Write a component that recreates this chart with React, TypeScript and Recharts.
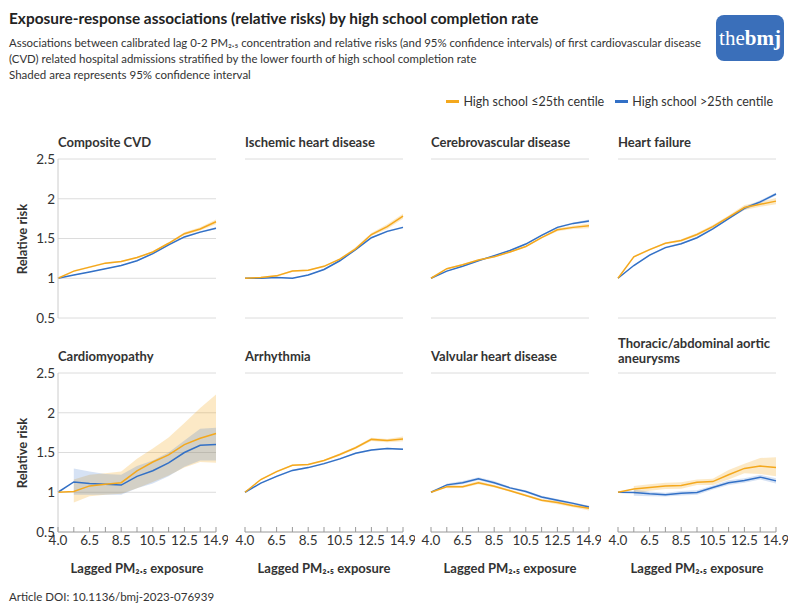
import React from 'react'
import { ComposedChart, Line, Area, XAxis, YAxis, CartesianGrid } from 'recharts'

const exposure = ['4.0', '5.5', '6.5', '7.5', '8.5', '9.5', '10.5', '11.5', '12.5', '13.5', '14.9']
const labelledTicks = ['4.0', '6.5', '8.5', '10.5', '12.5', '14.9']
const riskTicks = [0.5, 1, 1.5, 2, 2.5]

// Le = high school <=25th centile (orange), Gt = >25th centile (blue); Lo/Hi = 95% CI
const cvdLe = [1.0, 1.09, 1.14, 1.19, 1.21, 1.26, 1.33, 1.44, 1.56, 1.62, 1.71]
const cvdLeLo = [null, 1.08, 1.13, 1.18, 1.2, 1.25, 1.32, 1.43, 1.54, 1.6, 1.68]
const cvdLeHi = [null, 1.1, 1.15, 1.2, 1.22, 1.27, 1.34, 1.45, 1.58, 1.64, 1.74]
const cvdGt = [1.0, 1.04, 1.08, 1.12, 1.16, 1.22, 1.31, 1.42, 1.52, 1.58, 1.63]
const cvdGtLo = [null, 1.035, 1.075, 1.115, 1.155, 1.215, 1.3, 1.41, 1.51, 1.57, 1.62]
const cvdGtHi = [null, 1.045, 1.085, 1.125, 1.165, 1.225, 1.32, 1.43, 1.53, 1.59, 1.64]

const ihdLe = [1.0, 1.01, 1.03, 1.09, 1.1, 1.15, 1.24, 1.37, 1.55, 1.65, 1.78]
const ihdLeLo = [null, 1.0, 1.02, 1.08, 1.09, 1.14, 1.23, 1.35, 1.53, 1.62, 1.75]
const ihdLeHi = [null, 1.02, 1.04, 1.1, 1.11, 1.16, 1.25, 1.39, 1.57, 1.68, 1.81]
const ihdGt = [1.0, 1.0, 1.01, 1.0, 1.04, 1.11, 1.22, 1.36, 1.51, 1.59, 1.64]
const ihdGtLo = [null, 0.995, 1.005, 0.995, 1.035, 1.1, 1.21, 1.35, 1.5, 1.58, 1.63]
const ihdGtHi = [null, 1.005, 1.015, 1.005, 1.045, 1.12, 1.23, 1.37, 1.52, 1.6, 1.65]

const cbvLe = [1.0, 1.12, 1.17, 1.23, 1.27, 1.33, 1.4, 1.51, 1.61, 1.64, 1.66]
const cbvLeLo = [null, 1.11, 1.16, 1.22, 1.26, 1.32, 1.39, 1.5, 1.59, 1.62, 1.63]
const cbvLeHi = [null, 1.13, 1.18, 1.24, 1.28, 1.34, 1.41, 1.52, 1.63, 1.66, 1.69]
const cbvGt = [1.0, 1.09, 1.15, 1.22, 1.285, 1.35, 1.43, 1.54, 1.64, 1.69, 1.72]
const cbvGtLo = [null, 1.085, 1.145, 1.215, 1.28, 1.34, 1.42, 1.53, 1.63, 1.68, 1.7]
const cbvGtHi = [null, 1.095, 1.155, 1.225, 1.29, 1.36, 1.44, 1.55, 1.65, 1.7, 1.74]

const hfLe = [1.0, 1.27, 1.36, 1.44, 1.475, 1.55, 1.65, 1.77, 1.89, 1.93, 1.97]
const hfLeLo = [null, 1.26, 1.35, 1.43, 1.46, 1.53, 1.63, 1.75, 1.86, 1.9, 1.93]
const hfLeHi = [null, 1.28, 1.37, 1.45, 1.49, 1.57, 1.67, 1.79, 1.92, 1.96, 2.01]
const hfGt = [1.0, 1.16, 1.29, 1.385, 1.435, 1.51, 1.62, 1.75, 1.88, 1.96, 2.06]
const hfGtLo = [null, 1.15, 1.28, 1.375, 1.425, 1.5, 1.61, 1.74, 1.86, 1.94, 2.04]
const hfGtHi = [null, 1.17, 1.3, 1.395, 1.445, 1.52, 1.63, 1.76, 1.9, 1.98, 2.08]

const cmpLe = [1.0, 1.01, 1.08, 1.1, 1.12, 1.27, 1.38, 1.47, 1.6, 1.68, 1.74]
const cmpLeLo = [null, 0.87, 0.95, 0.97, 0.98, 1.05, 1.13, 1.21, 1.31, 1.38, 1.37]
const cmpLeHi = [null, 1.16, 1.22, 1.24, 1.26, 1.42, 1.55, 1.69, 1.87, 2.06, 2.23]
const cmpGt = [1.0, 1.13, 1.11, 1.1, 1.09, 1.2, 1.27, 1.37, 1.5, 1.59, 1.6]
const cmpGtLo = [null, 0.97, 0.97, 0.97, 0.97, 1.05, 1.11, 1.2, 1.32, 1.4, 1.4]
const cmpGtHi = [null, 1.3, 1.26, 1.23, 1.22, 1.33, 1.4, 1.5, 1.65, 1.8, 1.81]

const arrLe = [1.0, 1.16, 1.26, 1.34, 1.35, 1.4, 1.475, 1.56, 1.665, 1.65, 1.67]
const arrLeLo = [null, 1.15, 1.25, 1.33, 1.34, 1.39, 1.46, 1.545, 1.645, 1.63, 1.64]
const arrLeHi = [null, 1.17, 1.27, 1.35, 1.36, 1.41, 1.49, 1.575, 1.685, 1.67, 1.7]
const arrGt = [1.0, 1.115, 1.2, 1.275, 1.31, 1.36, 1.42, 1.49, 1.53, 1.55, 1.54]
const arrGtLo = [null, 1.11, 1.19, 1.265, 1.3, 1.35, 1.41, 1.48, 1.52, 1.54, 1.53]
const arrGtHi = [null, 1.12, 1.21, 1.285, 1.32, 1.37, 1.43, 1.5, 1.54, 1.56, 1.55]

const vhdLe = [1.0, 1.07, 1.07, 1.12, 1.075, 1.02, 0.96, 0.9, 0.87, 0.83, 0.8]
const vhdLeLo = [null, 1.05, 1.055, 1.1, 1.06, 1.005, 0.945, 0.885, 0.85, 0.81, 0.77]
const vhdLeHi = [null, 1.09, 1.085, 1.14, 1.09, 1.035, 0.975, 0.915, 0.89, 0.85, 0.83]
const vhdGt = [1.0, 1.093, 1.12, 1.17, 1.12, 1.055, 1.01, 0.94, 0.9, 0.86, 0.815]
const vhdGtLo = [null, 1.075, 1.1, 1.15, 1.1, 1.04, 0.995, 0.925, 0.885, 0.845, 0.8]
const vhdGtHi = [null, 1.11, 1.14, 1.19, 1.14, 1.07, 1.025, 0.955, 0.915, 0.875, 0.83]

const taaLe = [1.0, 1.04, 1.06, 1.08, 1.085, 1.126, 1.134, 1.22, 1.3, 1.33, 1.31]
const taaLeLo = [null, 0.98, 1.02, 1.04, 1.045, 1.09, 1.09, 1.16, 1.24, 1.23, 1.2]
const taaLeHi = [null, 1.08, 1.1, 1.12, 1.125, 1.16, 1.17, 1.28, 1.36, 1.43, 1.44]
const taaGt = [1.0, 0.996, 0.98, 0.97, 0.987, 0.996, 1.06, 1.12, 1.147, 1.19, 1.143]
const taaGtLo = [null, 0.955, 0.95, 0.945, 0.96, 0.97, 1.035, 1.09, 1.12, 1.16, 1.11]
const taaGtHi = [null, 1.03, 1.01, 0.995, 1.015, 1.025, 1.085, 1.15, 1.175, 1.22, 1.175]

const ORANGE = '#f4a81d'
const BLUE = '#3270c6'
const FONT = 'Lato, "Noto Sans", sans-serif'

const panels = [
  { title: ['Composite CVD'], le: cvdLe, leLo: cvdLeLo, leHi: cvdLeHi, gt: cvdGt, gtLo: cvdGtLo, gtHi: cvdGtHi },
  { title: ['Ischemic heart disease'], le: ihdLe, leLo: ihdLeLo, leHi: ihdLeHi, gt: ihdGt, gtLo: ihdGtLo, gtHi: ihdGtHi },
  { title: ['Cerebrovascular disease'], le: cbvLe, leLo: cbvLeLo, leHi: cbvLeHi, gt: cbvGt, gtLo: cbvGtLo, gtHi: cbvGtHi },
  { title: ['Heart failure'], le: hfLe, leLo: hfLeLo, leHi: hfLeHi, gt: hfGt, gtLo: hfGtLo, gtHi: hfGtHi },
  { title: ['Cardiomyopathy'], le: cmpLe, leLo: cmpLeLo, leHi: cmpLeHi, gt: cmpGt, gtLo: cmpGtLo, gtHi: cmpGtHi },
  { title: ['Arrhythmia'], le: arrLe, leLo: arrLeLo, leHi: arrLeHi, gt: arrGt, gtLo: arrGtLo, gtHi: arrGtHi },
  { title: ['Valvular heart disease'], le: vhdLe, leLo: vhdLeLo, leHi: vhdLeHi, gt: vhdGt, gtLo: vhdGtLo, gtHi: vhdGtHi },
  { title: ['Thoracic/abdominal aortic', 'aneurysms'], le: taaLe, leLo: taaLeLo, leHi: taaLeHi, gt: taaGt, gtLo: taaGtLo, gtHi: taaGtHi },
]

const colLeft = [58, 245, 431, 618]
const rowTop = [159, 373]
const plotW = 158
const plotH = 159

const XTick = (props: any) => {
  const { x, y, payload } = props
  const show = labelledTicks.includes(payload.value)
  return (
    <g>
      <line x1={x} x2={x} y1={y - 5} y2={y} stroke="#999" />
      {show && (
        <text x={x} y={y + 13} textAnchor="middle" fill="#333" fontSize={13.5} fontFamily={FONT}>
          {payload.value}
        </text>
      )}
    </g>
  )
}

function Panel({ panel, index }: { panel: any; index: number }) {
  const col = index % 4
  const row = Math.floor(index / 4)
  const bottomRow = row === 1
  const first = col === 0
  const left = colLeft[col]
  const top = rowTop[row]

  const data = exposure.map((x, i) => ({
    x,
    le: panel.le[i],
    gt: panel.gt[i],
    leBand: panel.leLo[i] == null ? null : [panel.leLo[i], panel.leHi[i]],
    gtBand: panel.gtLo[i] == null ? null : [panel.gtLo[i], panel.gtHi[i]],
  }))

  return (
    <>
      <div
        style={{
          position: 'absolute',
          left,
          top: top - (panel.title.length > 1 ? 37 : 24),
          fontSize: 13,
          fontWeight: 700,
          lineHeight: '15px',
          color: '#333',
          whiteSpace: 'nowrap',
        }}
      >
        {panel.title.map((t: string) => (
          <div key={t}>{t}</div>
        ))}
      </div>
      <div style={{ position: 'absolute', left: left - 50, top: top - 10 }}>
        <ComposedChart
          width={50 + plotW + 12}
          height={10 + plotH + (bottomRow ? 25 : 10)}
          data={data}
          margin={{ top: 10, right: 12, bottom: bottomRow ? 0 : 10, left: 0 }}
        >
          <CartesianGrid vertical={false} stroke="#dcdcdc" />
          <XAxis
            dataKey="x"
            type="category"
            scale="point"
            padding={{ left: 0, right: 0 }}
            hide={!bottomRow}
            interval={0}
            height={25}
            axisLine={{ stroke: '#aaa' }}
            tickLine={false}
            tickSize={0}
            tickMargin={0}
            tick={<XTick />}
          />
          <YAxis
            type="number"
            width={50}
            domain={[0.5, 2.5]}
            ticks={riskTicks}
            interval={0}
            allowDataOverflow
            axisLine={first ? { stroke: '#ccc' } : false}
            tickLine={false}
            tickSize={0}
            tickMargin={3}
            tick={first ? { fill: '#333', fontSize: 13.5, fontFamily: FONT } : false}
          />
          <Area type="linear" dataKey="leBand" fill={ORANGE} fillOpacity={0.25} stroke="none" isAnimationActive={false} />
          <Area type="linear" dataKey="gtBand" fill={BLUE} fillOpacity={0.2} stroke="none" isAnimationActive={false} />
          <Line type="linear" dataKey="gt" stroke={BLUE} strokeWidth={1.5} dot={false} isAnimationActive={false} />
          <Line type="linear" dataKey="le" stroke={ORANGE} strokeWidth={1.5} dot={false} isAnimationActive={false} />
        </ComposedChart>
      </div>
      {first && (
        <div
          style={{
            position: 'absolute',
            left: 22,
            top: top + plotH / 2,
            transform: 'translate(-50%, -50%) rotate(-90deg)',
            fontSize: 13,
            fontWeight: 700,
            color: '#333',
            whiteSpace: 'nowrap',
          }}
        >
          Relative risk
        </div>
      )}
      {bottomRow && (
        <div
          style={{
            position: 'absolute',
            left: left + plotW / 2,
            top: 568,
            transform: 'translate(-50%, -50%)',
            fontSize: 13,
            fontWeight: 700,
            color: '#333',
            whiteSpace: 'nowrap',
          }}
        >
          Lagged PM₂.₅ exposure
        </div>
      )}
    </>
  )
}

export default function App() {
  return (
    <div
      style={{
        position: 'absolute',
        left: 0,
        top: 0,
        width: 800,
        height: 614,
        background: '#fff',
        fontFamily: FONT,
        color: '#333',
        overflow: 'hidden',
      }}
    >
      <div style={{ position: 'absolute', left: 9, top: 9, fontSize: 15.4, fontWeight: 700, color: '#222', whiteSpace: 'nowrap' }}>
        Exposure-response associations (relative risks) by high school completion rate
      </div>
      <div style={{ position: 'absolute', left: 9, top: 35, fontSize: 11.4, lineHeight: '16px', color: '#333', width: 720 }}>
        Associations between calibrated lag 0-2 PM₂.₅ concentration and relative risks (and 95% confidence intervals) of first cardiovascular disease
        <br />
        (CVD) related hospital admissions stratified by the lower fourth of high school completion rate
      </div>
      <div style={{ position: 'absolute', left: 9, top: 68, fontSize: 11.5, color: '#333' }}>
        Shaded area represents 95% confidence interval
      </div>
      <div
        style={{
          position: 'absolute',
          left: 716,
          top: 15,
          width: 68,
          height: 46,
          borderRadius: 8,
          background: '#3a6fba',
          color: '#fff',
          fontFamily: '"Liberation Serif", serif',
          fontSize: 21,
          display: 'flex',
          alignItems: 'center',
          justifyContent: 'center',
        }}
      >
        <span style={{ fontWeight: 400 }}>the</span>
        <span style={{ fontWeight: 700 }}>bmj</span>
      </div>
      <div
        style={{
          position: 'absolute',
          right: 27,
          top: 94,
          display: 'flex',
          alignItems: 'center',
          fontSize: 12.5,
          color: '#333',
          whiteSpace: 'nowrap',
        }}
      >
        <span style={{ display: 'inline-block', width: 13, height: 3, background: ORANGE, marginRight: 4 }} />
        <span style={{ marginRight: 11 }}>High school ≤25th centile</span>
        <span style={{ display: 'inline-block', width: 13, height: 3, background: BLUE, marginRight: 4 }} />
        <span>High school &gt;25th centile</span>
      </div>
      {panels.map((p, i) => (
        <Panel key={i} panel={p} index={i} />
      ))}
      <div style={{ position: 'absolute', left: 9, top: 590, fontSize: 11.5, color: '#333' }}>
        Article DOI: 10.1136/bmj-2023-076939
      </div>
    </div>
  )
}
